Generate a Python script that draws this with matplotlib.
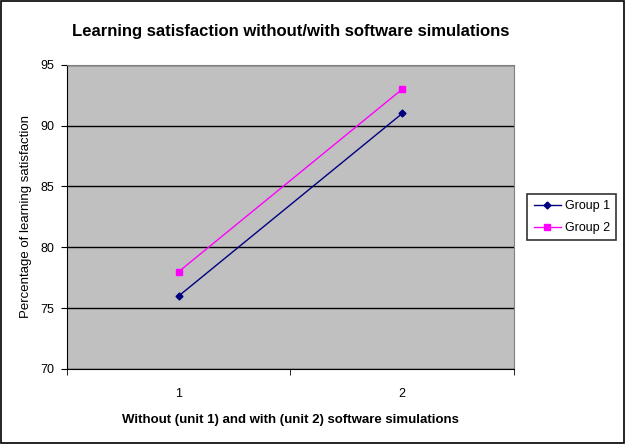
import matplotlib
matplotlib.use("Agg")
import matplotlib.pyplot as plt
from matplotlib.patches import Rectangle

plt.rcParams["font.family"] = ["Liberation Sans", "DejaVu Sans"]

units = [1, 2]
group1 = [76, 91]
group2 = [78, 93]
y_ticks = [70, 75, 80, 85, 90, 95]

fig = plt.figure(figsize=(6.26, 4.44), dpi=100)
fig.patches.append(Rectangle((0.002, 0.003), 0.995, 0.994, transform=fig.transFigure,
                             fill=False, edgecolor="black", linewidth=1.2))

ax = fig.add_axes([0.107, 0.169, 0.714, 0.685])
ax.set_facecolor("#C0C0C0")

ax.plot(units, group1, color="#000080", marker="D", markersize=3.5, linewidth=1, label="Group 1")
ax.plot(units, group2, color="#FF00FF", marker="s", markersize=4.5, linewidth=1, label="Group 2")

ax.set_xlim(0.5, 2.5)
ax.set_ylim(70, 95)
ax.set_yticks(y_ticks)
ax.set_xticks(units)
ax.set_xticks([0.5, 1.5, 2.5], minor=True)
ax.tick_params(axis="x", which="major", length=0, pad=14, labelsize=9)
ax.tick_params(axis="x", which="minor", length=4, direction="out")
ax.tick_params(axis="y", length=4, direction="out", labelsize=9, pad=5)
ax.grid(axis="y", color="black", linewidth=1)

for side in ["top", "right"]:
    ax.spines[side].set_color("#808080")
ax.spines["left"].set_color("black")
ax.spines["bottom"].set_color("black")

ax.set_xlabel("Without (unit 1) and with (unit 2) software simulations", fontsize=9.5,
              fontweight="bold", labelpad=10)
ax.set_ylabel("Percentage of learning satisfaction", fontsize=9.5, labelpad=6)
fig.text(0.465, 0.93, "Learning satisfaction without/with software simulations",
         ha="center", va="center", fontsize=12, fontweight="bold")

leg = ax.legend(loc="center left", bbox_to_anchor=(1.03, 0.5), fontsize=9,
                frameon=True, fancybox=False, borderpad=0.5, handlelength=2.2,
                handletextpad=0.3, labelspacing=0.8, borderaxespad=0)
leg.get_frame().set_edgecolor("black")
leg.get_frame().set_linewidth(1.2)

fig.savefig("out.png", dpi=100)
